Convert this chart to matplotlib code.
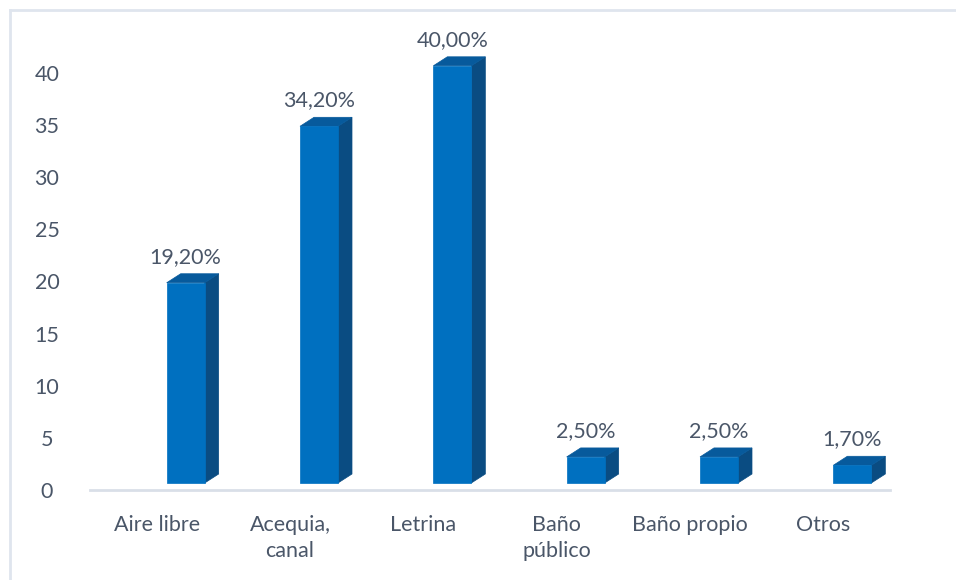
import matplotlib
matplotlib.use("Agg")
import matplotlib.pyplot as plt
from matplotlib.patches import Polygon
from matplotlib.transforms import ScaledTranslation
from matplotlib.lines import Line2D

categories = ["Aire libre", "Acequia,\ncanal", "Letrina", "Baño\npúblico", "Baño propio", "Otros"]
values = [19.2, 34.2, 40.0, 2.5, 2.5, 1.7]
value_labels = ["19,20%", "34,20%", "40,00%", "2,50%", "2,50%", "1,70%"]
yticks = [0, 5, 10, 15, 20, 25, 30, 35, 40]

FRONT = "#0070c0"
SIDE = "#0a4c82"
TOP = "#075a9c"
TEXT = "#4a5668"
GRID = "#d9dfe8"
FS = 15.5

plt.rcParams["font.family"] = ["Lato", "DejaVu Sans"]

W, H, DPI = 956, 580, 100
fig = plt.figure(figsize=(W / DPI, H / DPI), dpi=DPI)
fig.patch.set_facecolor("white")

left_px, right_px = 90, 890
zero_px = 490
px_per_unit = 10.43
ymax = 43
ax = fig.add_axes([left_px / W, (H - zero_px) / H, (right_px - left_px) / W,
                   ymax * px_per_unit / H])
ax.set_xlim(-0.5, len(categories) - 0.5)
ax.set_ylim(0, ymax)
for s in ax.spines.values():
    s.set_visible(False)
ax.set_yticks(yticks)
ax.set_yticklabels([str(t) for t in yticks])
ax.tick_params(axis="y", length=0, pad=31, labelsize=FS, labelcolor=TEXT)
for lbl in ax.get_yticklabels():
    lbl.set_horizontalalignment("center")
ax.set_xticks(range(len(categories)))
ax.set_xticklabels(categories, linespacing=1.38)
ax.tick_params(axis="x", length=0, pad=18, labelsize=FS, labelcolor=TEXT)

# floor line
ax.add_line(Line2D([-0.5, len(categories) - 0.5], [0, 0], color=GRID, lw=2,
                   transform=ax.transData, clip_on=False,
                   zorder=1))

# 3D offsets (in pixels)
px = 1.0 / DPI
front_shift = ScaledTranslation(29 * px, 7 * px, fig.dpi_scale_trans)
tr_front = ax.transData + front_shift
half_w = 0.5 * 38 / ((right_px - left_px) / len(categories))
depth_dx = 14 * px
depth_dy = 9 * px
tr_back = ax.transData + front_shift + ScaledTranslation(depth_dx, depth_dy, fig.dpi_scale_trans)

inv = ax.transData.inverted()
for i, v in enumerate(values):
    x0, x1 = i - half_w, i + half_w
    f_bl = tr_front.transform((x0, 0))
    f_br = tr_front.transform((x1, 0))
    f_tr = tr_front.transform((x1, v))
    f_tl = tr_front.transform((x0, v))
    b_br = tr_back.transform((x1, 0))
    b_tr = tr_back.transform((x1, v))
    b_tl = tr_back.transform((x0, v))
    side = Polygon(inv.transform([f_br, b_br, b_tr, f_tr]), closed=True,
                   facecolor=SIDE, edgecolor=SIDE, lw=0.5, zorder=3)
    top = Polygon(inv.transform([f_tl, f_tr, b_tr, b_tl]), closed=True,
                  facecolor=TOP, edgecolor=TOP, lw=0.5, zorder=3)
    front = Polygon(inv.transform([f_bl, f_br, f_tr, f_tl]), closed=True,
                    facecolor=FRONT, edgecolor=FRONT, lw=0.5, zorder=4)
    for p in (side, top, front):
        p.set_clip_on(False)
        ax.add_patch(p)
    lx, ly = inv.transform((f_tl + f_tr) / 2 + (0, 9 + 7))
    ax.text(lx, ly, value_labels[i], ha="center", va="bottom", fontsize=FS,
            color=TEXT, clip_on=False, zorder=5)

# chart area border
fig.add_artist(Line2D([10 / W, 10 / W], [0, 1 - 10 / H], color="#dfe5ee", lw=2,
                      transform=fig.transFigure))
fig.add_artist(Line2D([10 / W, 1], [1 - 10 / H, 1 - 10 / H], color="#dfe5ee", lw=2,
                      transform=fig.transFigure))

fig.savefig("out.png", dpi=DPI, facecolor="white")
